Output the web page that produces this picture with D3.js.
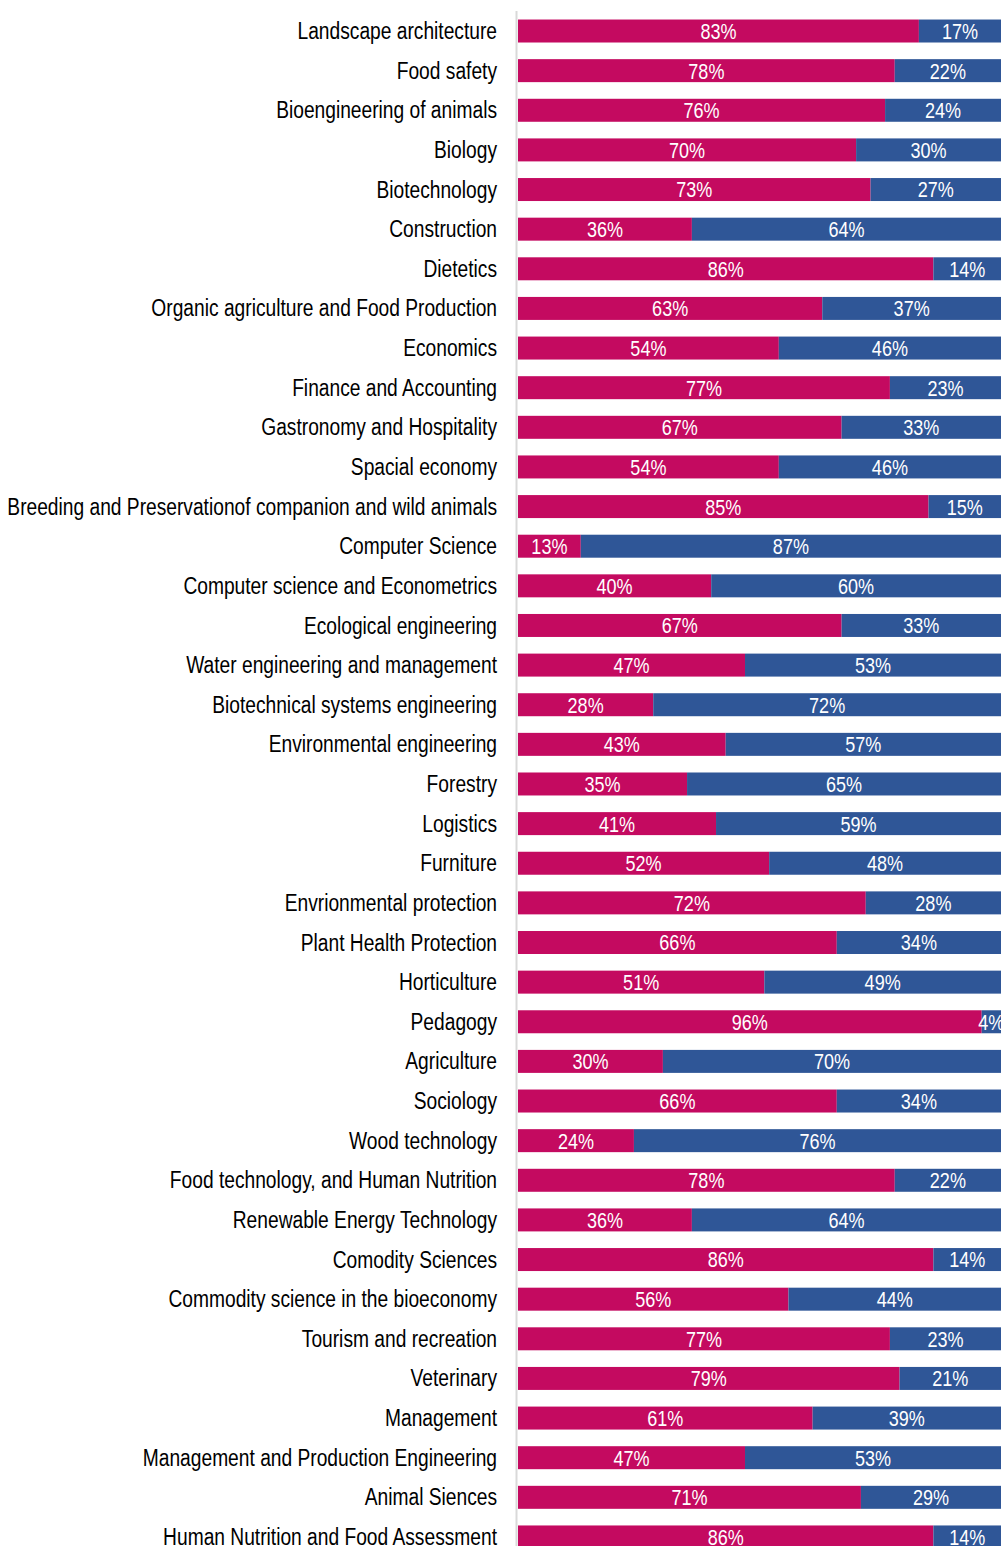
<!DOCTYPE html>
<html>
<head>
<meta charset="utf-8">
<script src="https://cdn.jsdelivr.net/npm/d3@7"></script>
<style>
  html, body { margin: 0; padding: 0; background: #fff; overflow: hidden; }
  svg { display: block; }
  text { font-family: "Liberation Sans", Arial, sans-serif; }
</style>
</head>
<body>
<svg id="chart" width="1001" height="1546"></svg>
<script>
const categories = [
  "Landscape architecture",
  "Food safety",
  "Bioengineering of animals",
  "Biology",
  "Biotechnology",
  "Construction",
  "Dietetics",
  "Organic agriculture and Food Production",
  "Economics",
  "Finance and Accounting",
  "Gastronomy and Hospitality",
  "Spacial economy",
  "Breeding and Preservationof companion and wild animals",
  "Computer Science",
  "Computer science and Econometrics",
  "Ecological engineering",
  "Water engineering and management",
  "Biotechnical systems engineering",
  "Environmental engineering",
  "Forestry",
  "Logistics",
  "Furniture",
  "Envrionmental protection",
  "Plant Health Protection",
  "Horticulture",
  "Pedagogy",
  "Agriculture",
  "Sociology",
  "Wood technology",
  "Food technology, and Human Nutrition",
  "Renewable Energy Technology",
  "Comodity Sciences",
  "Commodity science in the bioeconomy",
  "Tourism and recreation",
  "Veterinary",
  "Management",
  "Management and Production Engineering",
  "Animal Siences",
  "Human Nutrition and Food Assessment"
];
const seriesA = [83,78,76,70,73,36,86,63,54,77,67,54,85,13,40,67,47,28,43,35,41,52,72,66,51,96,30,66,24,78,36,86,56,77,79,61,47,71,86];
const seriesB = [17,22,24,30,27,64,14,37,46,23,33,46,15,87,60,33,53,72,57,65,59,48,28,34,49,4,70,34,76,22,64,14,44,23,21,39,53,29,14];
const seriesNames = ["A", "B"];
const colors = ["#C40A60", "#2F5697"];

const NARROW = 0.835;

const data = categories.map((c, i) => ({ cat: c, A: seriesA[i], B: seriesB[i] }));
const stack = d3.stack().keys(seriesNames)(data);

const svg = d3.select("#chart");
const x = d3.scaleLinear().domain([0, 100]).range([518, 1001]);
const y = d3.scaleBand().domain(categories).range([11.2, 11.2 + 39 * 39.63]).paddingInner(0.42).paddingOuter(0.21);

// axis line
svg.append("line")
  .attr("x1", 516.5).attr("x2", 516.5)
  .attr("y1", 11).attr("y2", 1546)
  .attr("stroke", "#d9d9d9").attr("stroke-width", 2);

const layers = svg.selectAll("g.layer").data(stack).join("g")
  .attr("class", "layer")
  .attr("fill", (d, i) => colors[i]);

layers.selectAll("rect").data(d => d).join("rect")
  .attr("x", d => x(d[0]))
  .attr("y", d => y(d.data.cat))
  .attr("width", d => x(d[1]) - x(d[0]))
  .attr("height", y.bandwidth());

layers.selectAll("text").data(d => d).join("text")
  .attr("transform", d => `translate(${(x(d[0]) + x(d[1])) / 2},${y(d.data.cat) + y.bandwidth() / 2}) scale(0.82,1)`)
  .attr("dy", "0.36em")
  .attr("text-anchor", "middle")
  .attr("fill", "#fff")
  .attr("font-size", 22)
  .text(d => (d[1] - d[0]) + "%");

svg.append("g").selectAll("text").data(categories).join("text")
  .attr("transform", d => `translate(497,${y(d) + y.bandwidth() / 2}) scale(${NARROW},1)`)
  .attr("dy", "0.35em")
  .attr("text-anchor", "end")
  .attr("fill", "#000")
  .attr("font-size", 23)
  .text(d => d);
</script>
</body>
</html>
